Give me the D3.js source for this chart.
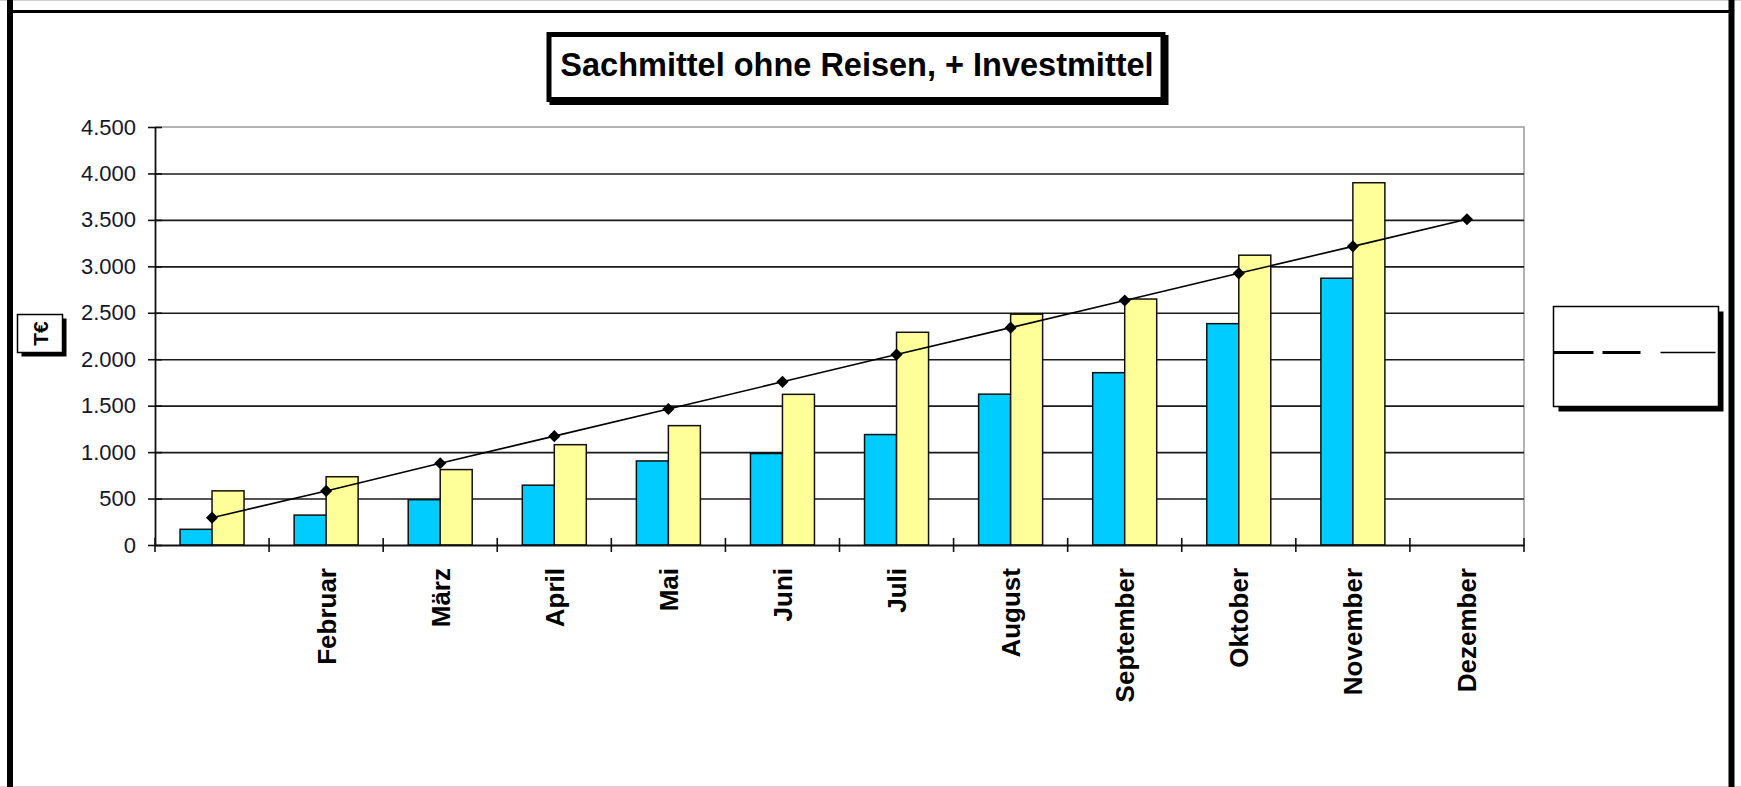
<!DOCTYPE html>
<html>
<head>
<meta charset="utf-8">
<script src="https://cdn.jsdelivr.net/npm/d3@7"></script>
<style>
  html, body { margin: 0; padding: 0; background: #fff; }
  svg { display: block; }
  text { font-family: "Liberation Sans", Arial, sans-serif; }
</style>
</head>
<body>
<svg id="chart" width="1741" height="787"></svg>
<script>
// ---- data ----
const months = ["Januar","Februar","März","April","Mai","Juni","Juli","August","September","Oktober","November","Dezember"];
const monthLabels = ["","Februar","März","April","Mai","Juni","Juli","August","September","Oktober","November","Dezember"];
const seriesNames = ["Ist", "Ist + Festlegungen"];
const istValues = [169, 322, 488, 644, 905, 985, 1189, 1624, 1855, 2383, 2872, null];
const festValues = [583, 735, 812, 1080, 1285, 1622, 2290, 2485, 2648, 3120, 3900, null];
const planValues = [294, 582, 880, 1172, 1464, 1757, 2050, 2340, 2632, 2925, 3215, 3507];
const yTicks = [0, 500, 1000, 1500, 2000, 2500, 3000, 3500, 4000, 4500];
const titleText = "Sachmittel ohne Reisen, + Investmittel";
const yAxisTitle = "T€";
const seriesColors = ["#00CCFF", "#FFFF99"];

// ---- layout ----
const W = 1741, H = 787;
const plot = { left: 155, right: 1524, top: 127, bottom: 545 };

const svg = d3.select("#chart");

// outer frame
svg.append("line").attr("x1", 0).attr("x2", W).attr("y1", 0.5).attr("y2", 0.5)
  .attr("stroke", "#cfcfcf").attr("stroke-width", 1);
svg.append("line").attr("x1", 0).attr("x2", W).attr("y1", 786.5).attr("y2", 786.5)
  .attr("stroke", "#d8d8d8").attr("stroke-width", 1);
svg.append("line").attr("x1", 10).attr("x2", 1731).attr("y1", 11.5).attr("y2", 11.5)
  .attr("stroke", "#000").attr("stroke-width", 3);
svg.append("line").attr("x1", 10).attr("x2", 10).attr("y1", 0).attr("y2", H)
  .attr("stroke", "#000").attr("stroke-width", 6);
svg.append("line").attr("x1", 1731.5).attr("x2", 1731.5).attr("y1", 0).attr("y2", H)
  .attr("stroke", "#000").attr("stroke-width", 6);

// scales
const x0 = d3.scaleBand().domain(months).range([plot.left, plot.right]).padding(0);
const bw = x0.bandwidth();
const x1 = d3.scaleBand().domain(seriesNames)
  .range([bw / 2 - bw * 0.2805, bw / 2 + bw * 0.2805]).padding(0);
const y = d3.scaleLinear().domain([0, 4500]).range([plot.bottom, plot.top]);

const de = d3.formatLocale({ decimal: ",", thousands: ".", grouping: [3], currency: ["", " €"] });
const fmt = de.format(",.0f");

// plot area border (gray top + right)
svg.append("path")
  .attr("d", `M${plot.left},${plot.top}H${plot.right}V${plot.bottom}`)
  .attr("fill", "none").attr("stroke", "#9a9a9a").attr("stroke-width", 1.5);

// gridlines
const grid = svg.append("g").attr("transform", `translate(${plot.left},0)`)
  .call(d3.axisLeft(y).tickValues(yTicks.filter(v => v > 0 && v < 4500))
    .tickSize(-(plot.right - plot.left)).tickFormat(""));
grid.select(".domain").remove();
grid.selectAll(".tick line").attr("stroke", "#1a1a1a").attr("stroke-width", 1.6);

// bars
const seriesData = [istValues, festValues];
const groups = svg.append("g");
seriesData.forEach((vals, si) => {
  groups.selectAll(null)
    .data(months.map((m, i) => ({ m, v: vals[i] })).filter(d => d.v != null))
    .enter().append("rect")
    .attr("x", d => x0(d.m) + x1(seriesNames[si]))
    .attr("y", d => y(d.v))
    .attr("width", x1.bandwidth())
    .attr("height", d => y(0) - y(d.v))
    .attr("fill", seriesColors[si])
    .attr("stroke", "#111").attr("stroke-width", 1.5);
});

// y axis
const yAxis = svg.append("g").attr("transform", `translate(${plot.left},0)`)
  .call(d3.axisLeft(y).tickValues(yTicks).tickFormat(fmt).tickSizeInner(7).tickSizeOuter(0).tickPadding(12));
yAxis.select(".domain").attr("stroke", "#111").attr("stroke-width", 1.8);
yAxis.selectAll(".tick line").attr("x1", -7).attr("x2", 7).attr("stroke", "#111").attr("stroke-width", 1.6);
yAxis.selectAll(".tick text").attr("font-size", 22).attr("fill", "#15152a")
  .attr("font-family", "Liberation Sans, Arial, sans-serif");

// x axis
const xAxis = svg.append("g").attr("transform", `translate(0,${plot.bottom})`)
  .call(d3.axisBottom(x0).tickValues([]).tickSizeOuter(0));
xAxis.select(".domain").attr("stroke", "#111").attr("stroke-width", 1.8);
const boundaries = months.map(m => x0(m)).concat([plot.right]);
xAxis.selectAll(".xtick").data(boundaries).enter().append("line")
  .attr("class", "xtick")
  .attr("x1", d => d).attr("x2", d => d)
  .attr("y1", -7).attr("y2", 7)
  .attr("stroke", "#111").attr("stroke-width", 1.6);
xAxis.selectAll(".xlab").data(months).enter().append("text")
  .attr("class", "xlab")
  .attr("transform", d => `translate(${x0(d) + bw / 2},${568 - plot.bottom}) rotate(-90)`)
  .attr("text-anchor", "end")
  .attr("dy", "0.36em")
  .attr("font-size", 26).attr("font-weight", "bold").attr("fill", "#000")
  .text((d, i) => monthLabels[i]);

// plan line with diamonds
const linePts = months.map((m, i) => ({ m, v: planValues[i] }));
svg.append("path")
  .datum(linePts)
  .attr("d", d3.line().x(d => x0(d.m) + bw / 2).y(d => y(d.v)))
  .attr("fill", "none").attr("stroke", "#000").attr("stroke-width", 1.6);
svg.append("g").selectAll("path").data(linePts).enter().append("path")
  .attr("d", d3.symbol().type(d3.symbolSquare).size(74))
  .attr("transform", d => `translate(${x0(d.m) + bw / 2},${y(d.v)}) rotate(45)`)
  .attr("fill", "#000");

// title box
const tb = { x: 549, y: 34.5, w: 614, h: 65 };
svg.append("rect").attr("x", tb.x + 3).attr("y", tb.y + 3).attr("width", tb.w).attr("height", tb.h)
  .attr("fill", "#000").attr("stroke", "#000").attr("stroke-width", 5);
svg.append("rect").attr("x", tb.x).attr("y", tb.y).attr("width", tb.w).attr("height", tb.h)
  .attr("fill", "#fff").attr("stroke", "#000").attr("stroke-width", 5);
svg.append("text").attr("x", tb.x + tb.w / 2 + 1).attr("y", 75.5)
  .attr("text-anchor", "middle").attr("font-size", 32.5).attr("font-weight", "bold")
  .attr("fill", "#000").text(titleText);

// y axis title box
const yb = { x: 17.5, y: 314.5, w: 45, h: 38 };
svg.append("rect").attr("x", yb.x + 4).attr("y", yb.y + 4).attr("width", yb.w).attr("height", yb.h)
  .attr("fill", "#000");
svg.append("rect").attr("x", yb.x).attr("y", yb.y).attr("width", yb.w).attr("height", yb.h)
  .attr("fill", "#fff").attr("stroke", "#000").attr("stroke-width", 1.5);
svg.append("text")
  .attr("transform", `translate(${yb.x + yb.w / 2},${yb.y + yb.h / 2}) rotate(-90)`)
  .attr("text-anchor", "middle").attr("dy", "0.36em")
  .attr("font-size", 21).attr("font-weight", "bold").attr("fill", "#000")
  .text(yAxisTitle);

// legend box (empty legend with line samples)
const lb = { x: 1553.5, y: 306.5, w: 165, h: 100 };
svg.append("rect").attr("x", lb.x + 5).attr("y", lb.y + 5).attr("width", lb.w).attr("height", lb.h)
  .attr("fill", "#000");
svg.append("rect").attr("x", lb.x).attr("y", lb.y).attr("width", lb.w).attr("height", lb.h)
  .attr("fill", "#fff").attr("stroke", "#000").attr("stroke-width", 1.5);
const ly = lb.y + 46;
const legSegs = [[0, 40, 3], [49, 87, 3], [107, 162, 1.6]];
svg.append("g").selectAll("line").data(legSegs).enter().append("line")
  .attr("x1", d => lb.x + d[0]).attr("x2", d => lb.x + d[1])
  .attr("y1", ly).attr("y2", ly)
  .attr("stroke", "#000").attr("stroke-width", d => d[2]);
</script>
</body>
</html>
